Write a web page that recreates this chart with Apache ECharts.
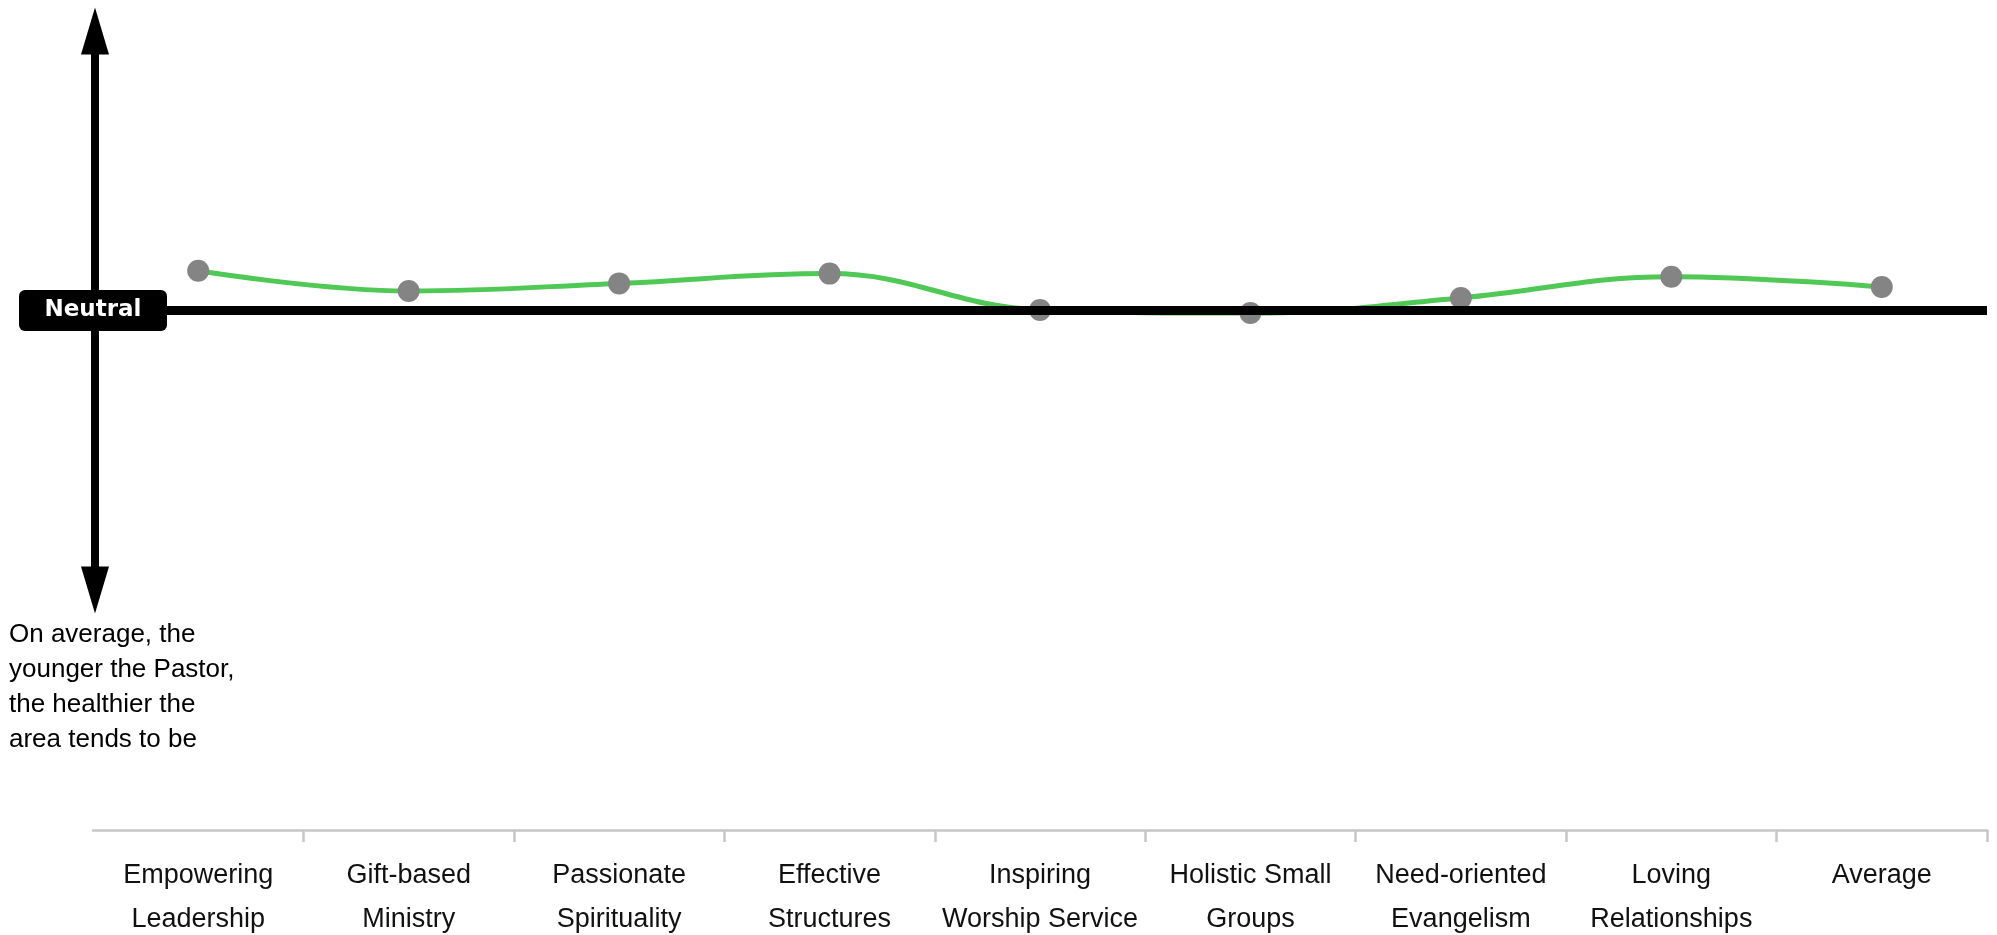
<!DOCTYPE html>
<html>
<head>
<meta charset="utf-8">
<style>
html,body{margin:0;padding:0;background:#fff;}
#chart{width:1997px;height:935px;}
</style>
<script src="https://cdn.jsdelivr.net/npm/echarts@6/dist/echarts.min.js"></script>
</head>
<body>
<div id="chart"></div>
<script>
const categories = [
  'Empowering\nLeadership',
  'Gift-based\nMinistry',
  'Passionate\nSpirituality',
  'Effective\nStructures',
  'Inspiring\nWorship Service',
  'Holistic Small\nGroups',
  'Need-oriented\nEvangelism',
  'Loving\nRelationships',
  'Average'
];
const values = [1.42, 0.70, 0.97, 1.32, 0.02, -0.09, 0.45, 1.21, 0.84];
const neutralValue = 0;
const neutralLabel = 'Neutral';
const noteText = 'On average, the\nyounger the Pastor,\nthe healthier the\narea tends to be';

const chart = echarts.init(document.getElementById('chart'), null, {renderer: 'canvas'});
chart.setOption({
  animation: false,
  backgroundColor: '#ffffff',
  title: {
    text: noteText,
    left: 9,
    top: 617,
    padding: 0,
    textStyle: {
      fontFamily: 'Liberation Sans, Arial, sans-serif',
      fontSize: 26,
      fontWeight: 'normal',
      lineHeight: 35,
      color: '#000'
    }
  },
  grid: {left: 93, right: 10, top: 31, bottom: 345, containLabel: false, outerBoundsMode: 'none'},
  xAxis: {
    type: 'category',
    data: categories,
    boundaryGap: true,
    position: 'bottom',
    offset: 240,
    axisLine: {show: true, onZero: false, lineStyle: {color: '#c6c6c6', width: 2.5}},
    axisTick: {show: true, length: 12, lineStyle: {color: '#c6c6c6', width: 2.5},
      interval: function (i) { return i > 0; }},
    axisLabel: {
      margin: 24,
      interval: 0,
      fontFamily: 'Liberation Sans, Arial, sans-serif',
      fontSize: 27,
      lineHeight: 44,
      color: '#111'
    },
    splitLine: {show: false}
  },
  yAxis: {
    type: 'value',
    min: -10,
    max: 10,
    interval: 10,
    offset: -2,
    z: 10,
    axisLine: {
      show: true,
      symbol: ['triangle', 'triangle'],
      symbolSize: [28, 47],
      lineStyle: {color: '#000', width: 8}
    },
    axisTick: {show: false},
    splitLine: {show: false},
    axisLabel: {
      show: true,
      margin: 2,
      align: 'center',
      formatter: function (v) { return v === neutralValue ? '{n|' + neutralLabel + '}' : ''; },
      rich: {
        n: {
          color: '#fff',
          fontFamily: 'DejaVu Sans, sans-serif',
          fontWeight: 'bold',
          fontSize: 23,
          backgroundColor: '#000',
          borderRadius: 6,
          width: 148,
          height: 41,
          lineHeight: 41,
          align: 'center'
        }
      }
    }
  },
  series: [
    {
      type: 'line',
      data: values,
      smooth: 0.4,
      showSymbol: false,
      z: 1,
      silent: true,
      lineStyle: {color: '#50c855', width: 5}
    },
    {
      type: 'line',
      data: [],
      z: 2,
      silent: true,
      markLine: {
        silent: true,
        symbol: ['none', 'none'],
        label: {show: false},
        lineStyle: {color: '#000', width: 9, type: 'solid'},
        data: [{yAxis: neutralValue}]
      }
    },
    {
      type: 'line',
      data: values,
      z: 3,
      silent: true,
      symbol: 'circle',
      symbolSize: 22,
      showSymbol: true,
      lineStyle: {width: 0, opacity: 0},
      itemStyle: {color: '#848484'}
    }
  ]
});
</script>
</body>
</html>
